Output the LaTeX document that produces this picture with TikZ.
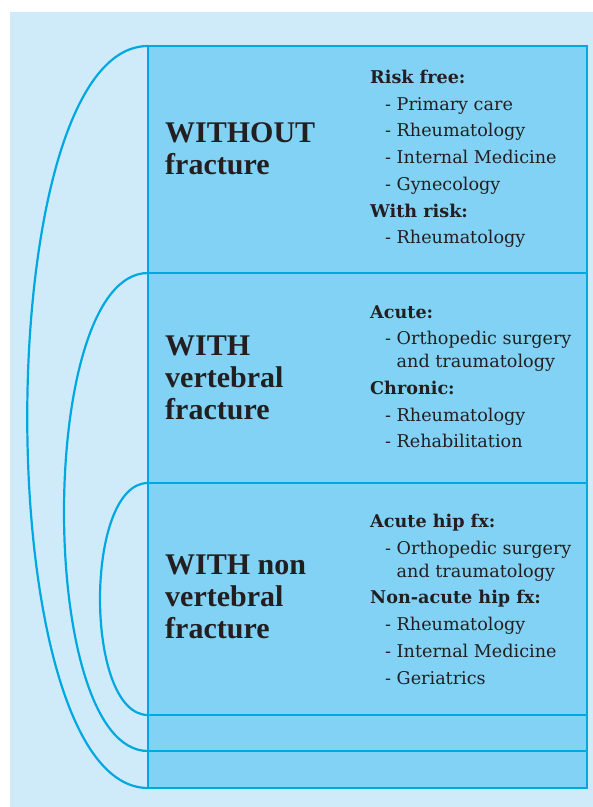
\documentclass[tikz,border=0pt]{standalone}
\usepackage{fontspec}
\setmainfont{DejaVu Serif}
\newfontfamily\titlefont{Liberation Serif}
\usetikzlibrary{positioning}
\definecolor{BackColor}{RGB}{207,235,250}
\definecolor{BoxColor}{RGB}{130,210,245}
\definecolor{LineColor}{RGB}{0,168,225}
\definecolor{TextColor}{RGB}{35,31,32}
\tikzset{
  row/.style={draw=LineColor, line width=2.2pt, fill=BoxColor, anchor=north west, inner sep=0pt, outer sep=0pt, minimum width=439pt},
  title/.style={anchor=west, align=left, inner sep=0pt, text=TextColor, font=\titlefont\fontsize{30}{32}\selectfont\bfseries},
  list/.style={anchor=north west, align=left, inner sep=0pt, text=TextColor, font=\fontsize{17.6}{26.7}\selectfont},
  bracket/.style={draw=LineColor, line width=2.2pt}
}
\newcommand{\itm}{\hspace*{15pt}- }
\newcommand{\cnt}{\hspace*{15pt}\phantom{- }}
\begin{document}
\begin{tikzpicture}[x=1pt, y=-1pt]
          \useasboundingbox (0,0) rectangle (593,807);
          \fill[BackColor] (10,12) rectangle (593,807);
          % the five rows
          \node[row, minimum height=227pt] (without) at (148,46) {};
          \node[row, minimum height=210pt] (vertebral) at (148,273) {};
          \node[row, minimum height=232pt] (nonvertebral) at (148,483) {};
          \node[row, minimum height=36pt] (rowfour) at (148,715) {};
          \node[row, minimum height=37pt] (rowfive) at (148,751) {};
          % brackets
          \draw[bracket] (without.north west) .. controls +(-161,0) and +(-161,0) .. (rowfive.south west);
          \draw[bracket] (vertebral.north west) .. controls +(-112,0) and +(-112,0) .. (rowfour.south west);
          \draw[bracket] (nonvertebral.north west) .. controls +(-64,0) and +(-64,0) .. (nonvertebral.south west);
          % titles
          \node[title] (withouttitle) at (165,149) {WITHOUT\\fracture};
          \node[title] (vertebraltitle) at (165,378) {WITH\\vertebral\\fracture};
          \node[title] (nonvertebraltitle) at (165,597) {WITH non\\vertebral\\fracture};
          % specialties
          \node[list] (withoutlist) at (370,70) {\textbf{Risk free:}\\
            \itm Primary care\\ \itm Rheumatology\\ \itm Internal Medicine\\ \itm Gynecology\\
            \textbf{With risk:}\\ \itm Rheumatology};
          \node[list] (vertebrallist) at (370,305) {\textbf{Acute:}\\
            \itm Orthopedic surgery\\[-3.7pt] \cnt and traumatology\\
            \textbf{Chronic:}\\ \itm Rheumatology\\ \itm Rehabilitation};
          \node[list] (nonvertebrallist) at (370,514) {\textbf{Acute hip fx:}\\
            \itm Orthopedic surgery\\[-3.7pt] \cnt and traumatology\\
            \textbf{Non-acute hip fx:}\\ \itm Rheumatology\\ \itm Internal Medicine\\ \itm Geriatrics};
        \end{tikzpicture}
\end{document}
